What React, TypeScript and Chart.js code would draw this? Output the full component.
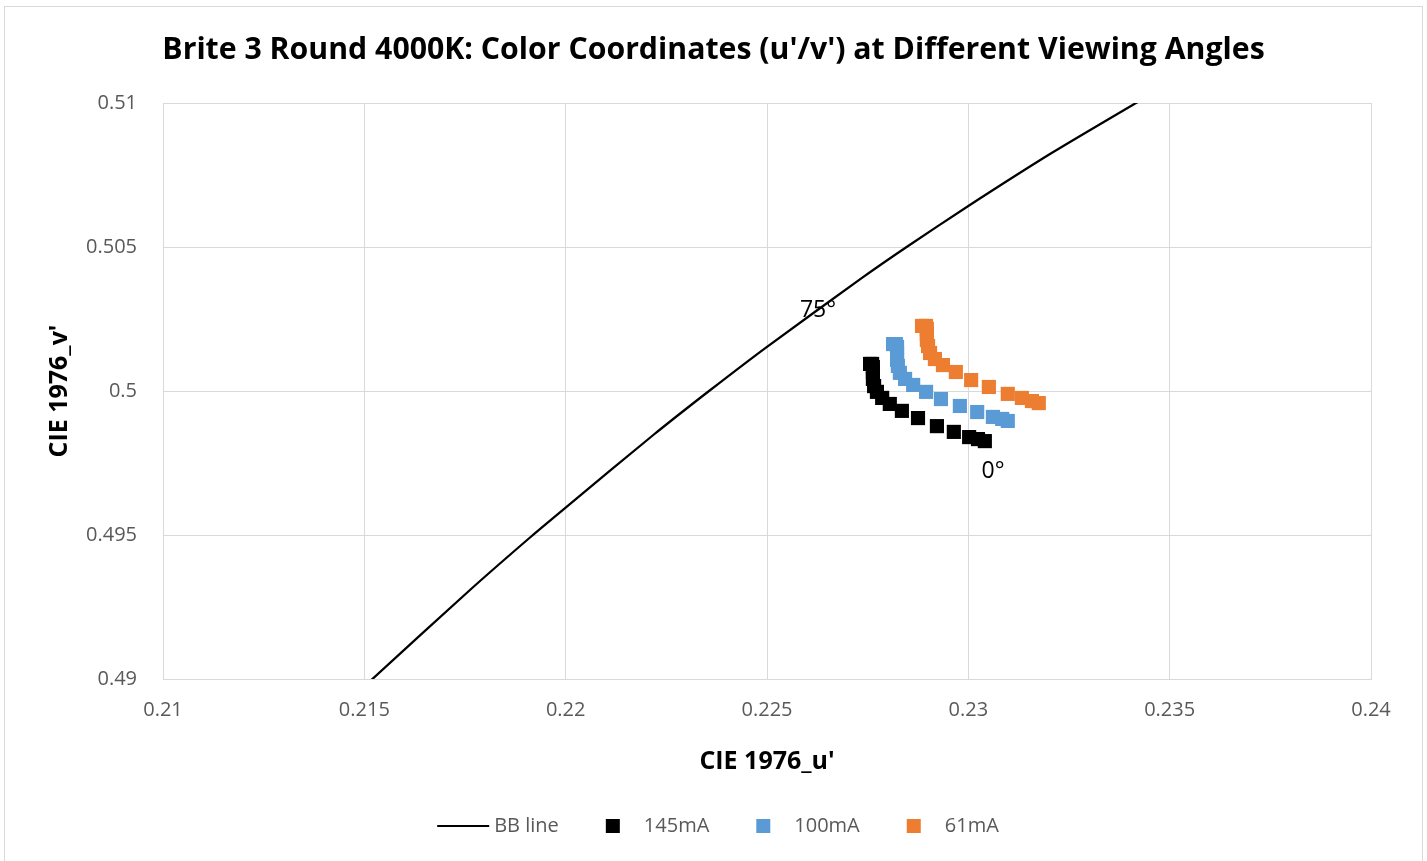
import React, { useEffect, useRef } from 'react';
import { Chart, registerables } from 'chart.js';

Chart.register(...registerables);

const chartTitle = "Brite 3 Round 4000K: Color Coordinates (u'/v') at Different Viewing Angles";
const xAxisTitle = "CIE 1976_u'";
const yAxisTitle = "CIE 1976_v'";

const xTicks = [0.21, 0.215, 0.22, 0.225, 0.23, 0.235, 0.24];
const xTickLabels = ['0.21', '0.215', '0.22', '0.225', '0.23', '0.235', '0.24'];
const yTicks = [0.49, 0.495, 0.5, 0.505, 0.51];
const yTickLabels = ['0.49', '0.495', '0.5', '0.505', '0.51'];

// Black body (Planckian) line
const bbU = [0.214768, 0.215173, 0.217637, 0.219129, 0.22, 0.222176, 0.22356, 0.225, 0.227359, 0.228467, 0.23, 0.232078, 0.234164, 0.23476];
const bbV = [0.489434, 0.489965, 0.493108, 0.494931, 0.495951, 0.498472, 0.5, 0.501535, 0.503927, 0.505, 0.506424, 0.508271, 0.51, 0.510476];

// Viewing angles 0..75 deg
const angles = [0, 5, 10, 15, 20, 25, 30, 35, 40, 45, 50, 55, 60, 65, 70, 75];

const u145 = [0.23041, 0.23024, 0.23002, 0.22964, 0.22922, 0.22875, 0.22835, 0.22805, 0.22786, 0.22773, 0.22766, 0.22763, 0.22763, 0.22763, 0.22761, 0.22756];
const v145 = [0.49826, 0.49833, 0.4984, 0.49858, 0.49878, 0.49906, 0.49931, 0.49955, 0.49976, 0.49997, 0.50017, 0.50042, 0.50066, 0.50083, 0.50094, 0.50094];

const u100 = [0.23098, 0.23084, 0.23061, 0.23022, 0.22979, 0.22932, 0.22895, 0.22863, 0.22843, 0.2283, 0.22825, 0.22823, 0.22823, 0.22823, 0.2282, 0.22813];
const v100 = [0.49896, 0.49903, 0.4991, 0.49927, 0.49948, 0.49972, 0.49997, 0.50021, 0.50042, 0.50063, 0.50087, 0.50108, 0.50132, 0.50153, 0.50163, 0.50163];

const u61 = [0.23175, 0.23158, 0.23133, 0.23098, 0.23051, 0.23007, 0.22969, 0.22937, 0.22917, 0.22905, 0.229, 0.22897, 0.22897, 0.22897, 0.22895, 0.22885];
const v61 = [0.49958, 0.49965, 0.49976, 0.4999, 0.50014, 0.50038, 0.50066, 0.5009, 0.50111, 0.50132, 0.50156, 0.50177, 0.50198, 0.50215, 0.50226, 0.50226];

const seriesLabels = ['BB line', '145mA', '100mA', '61mA'];
const seriesColors = ['#000000', '#000000', '#5B9BD5', '#ED7D31'];

const annotationLabels = ['75°', '0°'];
const annotationU = [0.226266, 0.230612];
const annotationV = [0.502813, 0.497222];

const toPoints = (u: number[], v: number[]) => u.map((x, i) => ({ x, y: v[i] }));

const FONT = '"Open Sans", "Noto Sans", sans-serif';

const decorPlugin = {
  id: 'decor',
  afterDraw(chart: any) {
    const ctx = chart.ctx as CanvasRenderingContext2D;
    const W = chart.width;
    ctx.save();
    // outer border
    ctx.strokeStyle = '#d9d9d9';
    ctx.lineWidth = 1;
    ctx.strokeRect(4.5, 6.5, W - 9, chart.height + 20);

    // title
    ctx.fillStyle = '#000000';
    ctx.font = `bold 100px ${FONT}`;
    const tw = ctx.measureText(chartTitle).width;
    const size = Math.min(32, (100 * 1103) / tw);
    ctx.font = `bold ${size}px ${FONT}`;
    ctx.textAlign = 'center';
    ctx.textBaseline = 'middle';
    ctx.fillText(chartTitle, 713.5, 50);

    // annotations
    const xs = chart.scales.x;
    const ys = chart.scales.y;
    ctx.font = `23px ${FONT}`;
    ctx.fillStyle = '#000000';
    annotationLabels.forEach((t, i) => {
      ctx.fillText(t, xs.getPixelForValue(annotationU[i]), ys.getPixelForValue(annotationV[i]));
    });

    // legend
    ctx.font = `20px ${FONT}`;
    ctx.textAlign = 'left';
    const ds = chart.data.datasets;
    const symW = 52, gap = 5, itemGap = 28;
    const widths = ds.map((d: any) => symW + gap + ctx.measureText(d.label).width);
    const total = widths.reduce((a: number, b: number) => a + b, 0) + itemGap * (ds.length - 1);
    let x = 718 - total / 2;
    const y = 826;
    ds.forEach((d: any, i: number) => {
      if (d.showLine) {
        ctx.strokeStyle = d.borderColor;
        ctx.lineWidth = 2;
        ctx.beginPath();
        ctx.moveTo(x, y);
        ctx.lineTo(x + symW, y);
        ctx.stroke();
      } else {
        ctx.fillStyle = d.pointBackgroundColor;
        ctx.fillRect(x + symW / 2 - 7, y - 7, 14, 14);
      }
      ctx.fillStyle = '#595959';
      ctx.fillText(d.label, x + symW + gap, y);
      x += widths[i] + itemGap;
    });
    ctx.restore();
  },
};

export default function App() {
  const ref = useRef<HTMLCanvasElement | null>(null);

  useEffect(() => {
    if (!ref.current) return;
    const scatterDs = (i: number, u: number[], v: number[]) => ({
      label: seriesLabels[i],
      data: toPoints(u, v),
      showLine: false,
      pointStyle: 'rect',
      pointRadius: 10,
      pointBorderWidth: 0,
      pointBackgroundColor: seriesColors[i],
      pointBorderColor: seriesColors[i],
      backgroundColor: seriesColors[i],
      borderColor: seriesColors[i],
    });
    const chart = new Chart(ref.current, {
      type: 'scatter',
      data: {
        datasets: [
          {
            label: seriesLabels[0],
            data: toPoints(bbU, bbV),
            showLine: true,
            borderColor: seriesColors[0],
            backgroundColor: seriesColors[0],
            borderWidth: 2.25,
            pointRadius: 0,
            tension: 0.2,
          } as any,
          scatterDs(1, u145, v145),
          scatterDs(2, u100, v100),
          scatterDs(3, u61, v61),
        ],
      },
      options: {
        responsive: false,
        animation: false,
        events: [],
        layout: { padding: { top: 103, right: 56, bottom: 0, left: 0 } },
        plugins: {
          legend: { display: false },
          tooltip: { enabled: false },
          title: { display: false },
        },
        scales: {
          x: {
            type: 'linear',
            min: 0.21,
            max: 0.24,
            afterBuildTicks: (s: any) => {
              s.ticks = xTicks.map((value) => ({ value }));
            },
            afterFit: (s: any) => {
              s.height = 182;
            },
            ticks: {
              padding: 19,
              color: '#595959',
              font: { family: FONT, size: 20 },
              callback: (_v: any, i: number) => xTickLabels[i],
              maxRotation: 0,
              autoSkip: false,
            },
            grid: { color: '#d9d9d9', lineWidth: 1, drawTicks: false },
            border: { display: true, color: '#d9d9d9' },
            title: {
              display: true,
              text: xAxisTitle,
              color: '#000000',
              font: { family: FONT, size: 25, weight: 'bold' },
              padding: { top: 0, bottom: 84 },
            },
          },
          y: {
            type: 'linear',
            min: 0.49,
            max: 0.51,
            afterBuildTicks: (s: any) => {
              s.ticks = yTicks.map((value) => ({ value }));
            },
            afterFit: (s: any) => {
              s.width = 163;
            },
            ticks: {
              padding: 26,
              color: '#595959',
              font: { family: FONT, size: 20 },
              callback: (_v: any, i: number) => yTickLabels[i],
              autoSkip: false,
            },
            grid: { color: '#d9d9d9', lineWidth: 1, drawTicks: false },
            border: { display: true, color: '#d9d9d9' },
            title: {
              display: true,
              text: yAxisTitle,
              color: '#000000',
              font: { family: FONT, size: 25, weight: 'bold' },
              padding: { top: 45, bottom: 0 },
            },
          },
        },
      } as any,
      plugins: [decorPlugin],
    });
    return () => chart.destroy();
  }, []);

  return (
    <div style={{ position: 'absolute', left: 0, top: 0, width: 1427, height: 861, background: '#ffffff' }}>
      <canvas ref={ref} width={1427} height={861} style={{ display: 'block' }} />
    </div>
  );
}
